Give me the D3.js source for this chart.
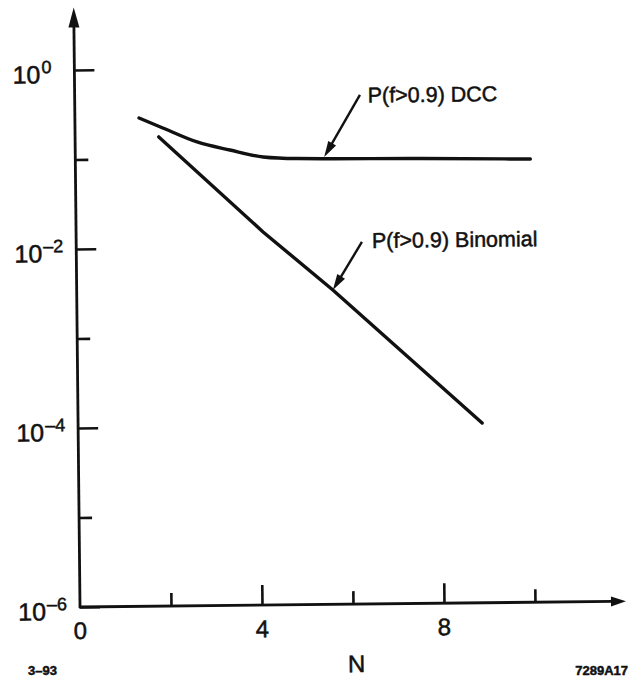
<!DOCTYPE html>
<html>
<head>
<meta charset="utf-8">
<script src="https://cdn.jsdelivr.net/npm/d3@7"></script>
<style>
  body { margin: 0; background: #fff; }
  text { font-family: "Liberation Sans", Arial, Helvetica, sans-serif; fill: #111; stroke: #111; stroke-width: 0.5; }
</style>
</head>
<body>
<div id="chart"></div>
<script>
// values
const dccN = [1.41, 1.93, 2.68, 3.40, 4.13, 4.87, 7.58, 10.0]
const dccP = [0.286, 0.220, 0.152, 0.1225, 0.1016, 0.0966, 0.0935, 0.0895]

const binN = [1.84, 4.11, 5.63, 8.88]
const binP = [0.175, 0.01475, 0.00325, 1.02e-4]

const yTicks = [1, 1e-1, 1e-2, 1e-3, 1e-4, 1e-5, 1e-6]
const yLabelExps = [0, -2, -4, -6]
const xTicks = [2, 4, 6, 8, 10]
const xLabels = [0, 4, 8]

// annotation arrows: tail and tip in (N, P), label anchor in (N, P)
const notes = [
  { text: 'P(f>0.9) DCC', tail: [6.27, 0.488], tip: [5.47, 0.0997], label: [6.44, 0.40] },
  { text: 'P(f>0.9) Binomial', tail: [6.28, 0.0111], tip: [5.63, 0.00325], label: [6.50, 0.0095] }
]

const width = 629
const height = 678

const svg = d3.select('#chart')
  .append('svg')
  .attr('width', width)
  .attr('height', height)

// the scan sits a little crooked, tilt the plot the same way
const g = svg.append('g')
  .attr('transform', 'rotate(-0.6 80 607)')

const x = d3.scaleLinear().domain([0, 10]).range([80, 535])
const y = d3.scaleLog().domain([1e-6, 1]).range([607, 70])

const ink = '#111'

function arrowHead(tx, ty, fx, fy, len, half) {
  const dx = tx - fx, dy = ty - fy
  const l = Math.hypot(dx, dy)
  const ux = dx / l, uy = dy / l
  const bx = tx - ux * len, by = ty - uy * len
  return [[tx, ty], [bx - uy * half, by + ux * half], [bx + uy * half, by - ux * half]]
}

function drawArrow(x1, y1, x2, y2, len, half, sw) {
  const p = arrowHead(x2, y2, x1, y1, len, half)
  const l = Math.hypot(x2 - x1, y2 - y1)
  g.append('line')
    .attr('x1', x1).attr('y1', y1)
    .attr('x2', x2 - (x2 - x1) / l * (len - 2))
    .attr('y2', y2 - (y2 - y1) / l * (len - 2))
    .attr('stroke', ink)
    .attr('stroke-width', sw)
  g.append('polygon')
    .attr('points', p.map(d => d.join(',')).join(' '))
    .attr('fill', ink)
}

// axes lines with arrows
drawArrow(x(0), y(1e-6) + 1, x(0), y(5), 20, 5.5, 2.8)
drawArrow(x(0) - 1, y(1e-6), x(12), y(1e-6), 15, 5, 2.8)

// y ticks
const yAxis = d3.axisRight(y)
  .tickValues(yTicks)
  .tickFormat('')
  .tickSizeOuter(0)

const ya = g.append('g')
  .attr('class', 'axis y-axis')
  .attr('transform', 'translate(' + x(0) + ',0)')
  .call(yAxis)
ya.select('.domain').remove()
ya.selectAll('.tick line')
  .attr('x2', d => yLabelExps.includes(Math.round(Math.log10(d))) ? 20 : 13)
  .attr('stroke', ink)
  .attr('stroke-width', 2.6)

// y labels 10^k
yLabelExps.forEach(e => {
  const ty = y(Math.pow(10, e))
  g.append('text')
    .attr('x', 46)
    .attr('y', ty + 13)
    .attr('text-anchor', 'end')
    .attr('font-size', 25)
    .text('10')
  g.append('text')
    .attr('x', 47)
    .attr('y', ty + 3)
    .attr('font-size', 18)
    .text(e === 0 ? '0' : '\u2013' + (-e))
})

// x ticks
const xAxis = d3.axisTop(x)
  .tickValues(xTicks)
  .tickFormat('')
  .tickSizeOuter(0)

const xa = g.append('g')
  .attr('class', 'axis x-axis')
  .attr('transform', 'translate(0,' + y(1e-6) + ')')
  .call(xAxis)
xa.select('.domain').remove()
xa.selectAll('.tick line')
  .attr('y2', d => xLabels.includes(d) ? -20 : -13)
  .attr('stroke', ink)
  .attr('stroke-width', 2.6)

g.selectAll('.x-label')
  .data(xLabels)
  .enter()
  .append('text')
  .attr('class', 'x-label')
  .attr('x', d => x(d))
  .attr('y', 639)
  .attr('text-anchor', 'middle')
  .attr('font-size', 24)
  .text(d => d)

g.append('text')
  .attr('x', 356)
  .attr('y', 675)
  .attr('text-anchor', 'middle')
  .attr('font-size', 24)
  .text('N')

// curves
const line = d3.line()
  .x(d => x(d[0]))
  .y(d => y(d[1]))

g.append('path')
  .datum(dccN.map((n, i) => [n, dccP[i]]))
  .attr('d', line.curve(d3.curveMonotoneX))
  .attr('fill', 'none')
  .attr('stroke', ink)
  .attr('stroke-width', 3.4)
  .attr('stroke-linecap', 'round')

g.append('path')
  .datum(binN.map((n, i) => [n, binP[i]]))
  .attr('d', line.curve(d3.curveLinear))
  .attr('fill', 'none')
  .attr('stroke', ink)
  .attr('stroke-width', 3.4)
  .attr('stroke-linecap', 'round')

// annotations
notes.forEach(n => {
  drawArrow(x(n.tail[0]), y(n.tail[1]), x(n.tip[0]), y(n.tip[1]), 16, 4.5, 2.4)
  g.append('text')
    .attr('x', x(n.label[0]))
    .attr('y', y(n.label[1]))
    .attr('font-size', 21.5)
    .text(n.text)
})

// figure codes
svg.append('text')
  .attr('x', 28)
  .attr('y', 675)
  .attr('font-size', 13)
  .attr('font-weight', 'bold')
  .text('3\u201393')

svg.append('text')
  .attr('x', 628)
  .attr('y', 675)
  .attr('text-anchor', 'end')
  .attr('font-size', 13)
  .attr('font-weight', 'bold')
  .text('7289A17')
</script>
</body>
</html>
